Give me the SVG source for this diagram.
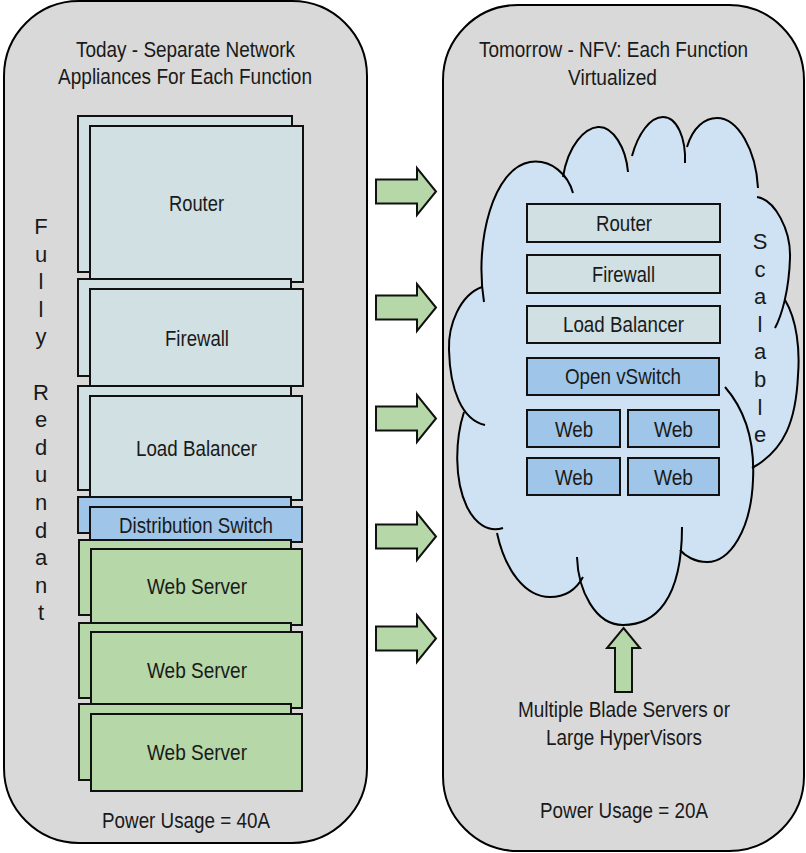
<svg xmlns="http://www.w3.org/2000/svg" width="806" height="853" viewBox="0 0 806 853">
<style>
.panel{fill:#d9d9d9;stroke:#000;stroke-width:2}
.gray{fill:#d0e0e3;stroke:#111;stroke-width:2}
.blue{fill:#9fc5e8;stroke:#111;stroke-width:2}
.green{fill:#b6d7a8;stroke:#111;stroke-width:2}
.arrow{fill:#b6d7a8;stroke:#111;stroke-width:2;stroke-linejoin:miter}
.t{font-family:"Liberation Sans",Arial,sans-serif;font-size:22px;fill:#1a1a1a;text-anchor:middle}
.cf{fill:#cfe2f3;stroke:none}
.cs{fill:none;stroke:#000;stroke-width:2}
</style>

<g id="left-panel">
<rect class="panel" x="4" y="1" width="363" height="842" rx="75" ry="75"/>
<text class="t" x="185.5" y="57" textLength="219" lengthAdjust="spacingAndGlyphs">Today - Separate Network</text>
<text class="t" x="185" y="84" textLength="254" lengthAdjust="spacingAndGlyphs">Appliances For Each Function</text>
<text class="t" x="186" y="828" textLength="168" lengthAdjust="spacingAndGlyphs">Power Usage = 40A</text>
<text class="t" x="41" y="234"><tspan x="41">F</tspan><tspan x="41" dy="27.6">u</tspan><tspan x="41" dy="27.6">l</tspan><tspan x="41" dy="27.6">l</tspan><tspan x="41" dy="27.6">y</tspan><tspan x="41" dy="55.2">R</tspan><tspan x="41" dy="27.6">e</tspan><tspan x="41" dy="27.6">d</tspan><tspan x="41" dy="27.6">u</tspan><tspan x="41" dy="27.6">n</tspan><tspan x="41" dy="27.6">d</tspan><tspan x="41" dy="27.6">a</tspan><tspan x="41" dy="27.6">n</tspan><tspan x="41" dy="27.6">t</tspan></text>
</g>

<g id="router-appliance">
<rect class="gray" x="78" y="116" width="214" height="156"/>
<rect class="gray" x="90" y="126" width="213" height="156"/>
<text class="t" x="196.5" y="211" textLength="55" lengthAdjust="spacingAndGlyphs">Router</text>
</g>
<g id="firewall-appliance">
<rect class="gray" x="78" y="279" width="213" height="97"/>
<rect class="gray" x="90" y="289" width="213" height="97"/>
<text class="t" x="197" y="346" textLength="64" lengthAdjust="spacingAndGlyphs">Firewall</text>
</g>
<g id="loadbalancer-appliance">
<rect class="gray" x="78" y="386" width="213" height="104"/>
<rect class="gray" x="90" y="396" width="212" height="104"/>
<text class="t" x="196.5" y="456" textLength="121" lengthAdjust="spacingAndGlyphs">Load Balancer</text>
</g>
<g id="distribution-switch">
<rect class="blue" x="78" y="497" width="213" height="36"/>
<rect class="blue" x="90" y="507" width="212" height="35"/>
<text class="t" x="196" y="533" textLength="154" lengthAdjust="spacingAndGlyphs">Distribution Switch</text>
</g>
<g id="web-server-1">
<rect class="green" x="79" y="540" width="212" height="75"/>
<rect class="green" x="91" y="549" width="211" height="76"/>
<text class="t" x="197" y="594" textLength="100" lengthAdjust="spacingAndGlyphs">Web Server</text>
</g>
<g id="web-server-2">
<rect class="green" x="79" y="623" width="212" height="75"/>
<rect class="green" x="91" y="632" width="211" height="76"/>
<text class="t" x="197" y="678" textLength="100" lengthAdjust="spacingAndGlyphs">Web Server</text>
</g>
<g id="web-server-3">
<rect class="green" x="79" y="704" width="212" height="76"/>
<rect class="green" x="91" y="714" width="211" height="77"/>
<text class="t" x="197" y="760" textLength="100" lengthAdjust="spacingAndGlyphs">Web Server</text>
</g>

<g id="right-panel">
<rect class="panel" x="443" y="5" width="361" height="846" rx="75" ry="75"/>
<text class="t" x="613.5" y="57" textLength="269" lengthAdjust="spacingAndGlyphs">Tomorrow - NFV: Each Function</text>
<text class="t" x="612.5" y="85" textLength="89" lengthAdjust="spacingAndGlyphs">Virtualized</text>
<text class="t" x="624" y="717" textLength="212" lengthAdjust="spacingAndGlyphs">Multiple Blade Servers or</text>
<text class="t" x="624" y="745" textLength="156" lengthAdjust="spacingAndGlyphs">Large HyperVisors</text>
<text class="t" x="624" y="818" textLength="168" lengthAdjust="spacingAndGlyphs">Power Usage = 20A</text>
</g>

<g id="cloud">
<g class="cf">
<path d="M484,302 C474,240 494,168 530,162 C552,159 568,175 573,193 L620,380 Z"/>
<path d="M563,177 C568,145 585,128 598,127 C613,126 626,148 628,172 L620,380 Z"/>
<path d="M632,156 C638,134 650,117 663,117 C677,117 686,138 685,163 L620,380 Z"/>
<path d="M687,147 C693,127 705,118 717,118 C738,118 756,150 758,188 L620,380 Z"/>
<path d="M757,197 C775,200 791,230 790,258 C789,290 782,315 775,328 L620,380 Z"/>
<path d="M785,300 C797,320 800,350 798,375 C796,420 785,450 752,468 L620,380 Z"/>
<path d="M725,387 C745,410 755,440 753,480 C751,530 730,562 707,562 C695,562 685,556 680,550 L620,380 Z"/>
<path d="M682,527 C682,600 655,625 623,625 C595,625 578,590 577,557 L620,380 Z"/>
<path d="M583,577 C575,592 562,597 550,597 C525,597 505,570 497,533 L620,380 Z"/>
<path d="M464,412 C455,440 454,480 467,507 C475,523 488,533 503,528 L620,380 Z"/>
<path d="M482,287 C460,295 448,325 449,350 C450,390 462,420 485,425 L620,380 Z"/>
<path d="M484,302 L573,193 L563,177 L628,172 L632,156 L685,163 L687,147 L758,188 L757,197 L775,328 L785,300 L752,468 L725,387 L680,550 L682,527 L577,557 L583,577 L497,533 L503,528 L464,412 L485,425 L482,287 Z"/>
</g>
<g class="cs">
<path d="M484,302 C474,240 494,168 530,162 C552,159 568,175 573,193"/>
<path d="M563,177 C568,145 585,128 598,127 C613,126 626,148 628,172"/>
<path d="M632,156 C638,134 650,117 663,117 C677,117 686,138 685,163"/>
<path d="M687,147 C693,127 705,118 717,118 C738,118 756,150 758,188"/>
<path d="M757,197 C775,200 791,230 790,258 C789,290 782,315 775,328"/>
<path d="M785,300 C797,320 800,350 798,375 C796,420 785,450 752,468"/>
<path d="M725,387 C745,410 755,440 753,480 C751,530 730,562 707,562 C695,562 685,556 680,550"/>
<path d="M682,527 C682,600 655,625 623,625 C595,625 578,590 577,557"/>
<path d="M583,577 C575,592 562,597 550,597 C525,597 505,570 497,533"/>
<path d="M464,412 C455,440 454,480 467,507 C475,523 488,533 503,528"/>
<path d="M482,287 C460,295 448,325 449,350 C450,390 462,420 485,425"/>
</g>
<text class="t" x="760" y="249"><tspan x="760">S</tspan><tspan x="760" dy="27.6">c</tspan><tspan x="760" dy="27.6">a</tspan><tspan x="760" dy="27.6">l</tspan><tspan x="760" dy="27.6">a</tspan><tspan x="760" dy="27.6">b</tspan><tspan x="760" dy="27.6">l</tspan><tspan x="760" dy="27.6">e</tspan></text>
</g>

<g id="vnf-router">
<rect class="gray" x="527" y="204" width="193" height="38"/>
<text class="t" x="624" y="231" textLength="56" lengthAdjust="spacingAndGlyphs">Router</text>
</g>
<g id="vnf-firewall">
<rect class="gray" x="527" y="255" width="193" height="38"/>
<text class="t" x="623.5" y="282" textLength="63" lengthAdjust="spacingAndGlyphs">Firewall</text>
</g>
<g id="vnf-loadbalancer">
<rect class="gray" x="527" y="306" width="193" height="37"/>
<text class="t" x="623.5" y="332" textLength="121" lengthAdjust="spacingAndGlyphs">Load Balancer</text>
</g>
<g id="vnf-openvswitch">
<rect class="blue" x="527" y="358" width="192" height="37"/>
<text class="t" x="623" y="384" textLength="116" lengthAdjust="spacingAndGlyphs">Open vSwitch</text>
</g>
<g id="vnf-web-1">
<rect class="blue" x="527" y="410" width="93" height="37"/>
<text class="t" x="574" y="437" textLength="38" lengthAdjust="spacingAndGlyphs">Web</text>
</g>
<g id="vnf-web-2">
<rect class="blue" x="628" y="410" width="91" height="37"/>
<text class="t" x="673.5" y="437" textLength="39" lengthAdjust="spacingAndGlyphs">Web</text>
</g>
<g id="vnf-web-3">
<rect class="blue" x="527" y="458" width="93" height="37"/>
<text class="t" x="574" y="485" textLength="38" lengthAdjust="spacingAndGlyphs">Web</text>
</g>
<g id="vnf-web-4">
<rect class="blue" x="628" y="458" width="91" height="37"/>
<text class="t" x="673.5" y="485" textLength="39" lengthAdjust="spacingAndGlyphs">Web</text>
</g>

<g id="connectors">
<polygon class="arrow" points="376,179.5 417,179.5 417,168 436,191.5 417,215 417,203.5 376,203.5"/>
<polygon class="arrow" points="376,295.5 417,295.5 417,284 436,307.5 417,331 417,319.5 376,319.5"/>
<polygon class="arrow" points="376,406.5 417,406.5 417,395 436,418.5 417,442 417,430.5 376,430.5"/>
<polygon class="arrow" points="376,524.5 417,524.5 417,513 436,536.5 417,560 417,548.5 376,548.5"/>
<polygon class="arrow" points="376,626.5 417,626.5 417,615 436,638.5 417,662 417,650.5 376,650.5"/>
<polygon class="arrow" points="623.5,628 640,648 632,648 632,692 615,692 615,648 607,648"/>
</g>
</svg>
